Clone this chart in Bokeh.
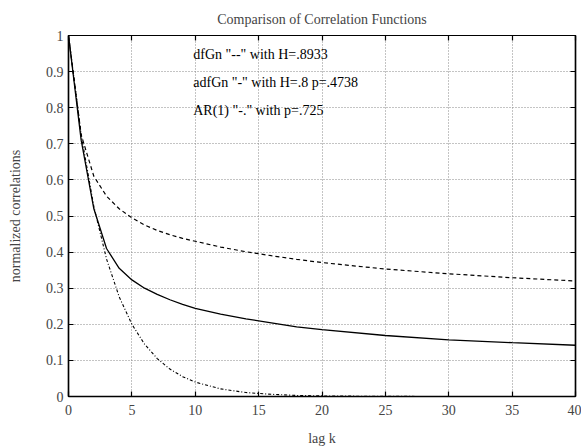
from bokeh.plotting import figure
from bokeh.models import LinearAxis, FixedTicker, PrintfTickFormatter, Range1d
from bokeh.core.properties import value
from bokeh.embed import file_html
from bokeh.resources import INLINE

# lag values (k)
lags = [0, 1, 2, 3, 4, 5, 6, 7, 8, 9, 10, 12, 14, 16, 18, 20, 25, 30, 35, 40]
# dfGn "--" with H=.8933
dfgn = [1.0, 0.725, 0.61, 0.555, 0.52, 0.495, 0.475, 0.46, 0.448, 0.438, 0.43,
        0.414, 0.401, 0.39, 0.38, 0.371, 0.353, 0.34, 0.329, 0.32]
# adfGn "-" with H=.8 p=.4738
adfgn = [1.0, 0.71, 0.52, 0.41, 0.355, 0.323, 0.30, 0.283, 0.268, 0.255, 0.244,
         0.228, 0.215, 0.204, 0.193, 0.185, 0.169, 0.157, 0.149, 0.142]
# AR(1) "-." with p=.725
ar1 = [1.0, 0.725, 0.526, 0.381, 0.276, 0.2, 0.145, 0.105, 0.076, 0.055, 0.04,
       0.021, 0.011, 0.006, 0.003, 0.0016, 0.0003, 0.0001, 0.0, 0.0]

x_ticks = [0, 5, 10, 15, 20, 25, 30, 35, 40]
y_ticks = [0, 0.1, 0.2, 0.3, 0.4, 0.5, 0.6, 0.7, 0.8, 0.9, 1.0]

notes = ['dfGn "--" with H=.8933', 'adfGn "-" with H=.8 p=.4738', 'AR(1) "-." with p=.725']
note_x = [10, 10, 10]
note_y = [0.948, 0.870, 0.793]

title = "Comparison of Correlation Functions"
xlabel = "lag k"
ylabel = "normalized correlations"

FONT = "Liberation Serif"

p = figure(width=581, height=448, output_backend="svg", toolbar_location=None,
           x_range=Range1d(0, 40), y_range=Range1d(0, 1),
           min_border_left=68, min_border_right=6, min_border_top=33, min_border_bottom=52,
           x_axis_label=xlabel, y_axis_label=ylabel)
p.title.text = title
p.title.align = "center"
p.title.text_font = FONT
p.title.text_font_size = "14px"
p.title.text_font_style = "normal"
p.title.text_line_height = 1.0
p.title.standoff = 18

p.outline_line_color = "black"
p.outline_line_width = 1.2
p.background_fill_color = "white"
p.border_fill_color = "white"

for ax in [p.xaxis[0], p.yaxis[0]]:
    ax.major_tick_in = 5
    ax.major_tick_out = 0
    ax.minor_tick_in = 0
    ax.minor_tick_out = 0
    ax.axis_line_width = 1.5
    ax.major_tick_line_width = 1.2
    ax.major_label_text_font = FONT
    ax.major_label_text_font_size = "14px"
    ax.axis_label_text_font = FONT
    ax.axis_label_text_font_size = "14px"
    ax.axis_label_text_font_style = "normal"

p.xaxis[0].ticker = FixedTicker(ticks=x_ticks)
p.yaxis[0].ticker = FixedTicker(ticks=y_ticks)
p.yaxis[0].formatter = PrintfTickFormatter(format="%g")
p.xaxis[0].major_label_standoff = 8
p.xaxis[0].axis_label_standoff = 13
p.yaxis[0].major_label_standoff = 5
p.yaxis[0].axis_label_standoff = 20

# mirrored ticks on right and top (no labels)
ra = LinearAxis(ticker=FixedTicker(ticks=y_ticks), major_tick_in=5, major_tick_out=0,
                minor_tick_in=0, minor_tick_out=0, major_label_text_color=None,
                major_label_text_font_size="1px",
                major_label_standoff=0, axis_line_width=1.5, major_tick_line_width=1.2)
ta = LinearAxis(ticker=FixedTicker(ticks=x_ticks), major_tick_in=5, major_tick_out=0,
                minor_tick_in=0, minor_tick_out=0, major_label_text_color=None,
                major_label_text_font_size="1px",
                major_label_standoff=0, axis_line_width=1.2, major_tick_line_width=1.2)
p.add_layout(ra, "right")
p.add_layout(ta, "above")

p.xgrid.grid_line_color = "#888888"
p.ygrid.grid_line_color = "#888888"
p.xgrid.grid_line_dash = "1 2"
p.ygrid.grid_line_dash = "1 2"
p.xgrid.grid_line_width = 1
p.ygrid.grid_line_width = 1
p.xgrid.ticker = FixedTicker(ticks=x_ticks)
p.ygrid.ticker = FixedTicker(ticks=y_ticks)

p.line(lags, dfgn, line_color="black", line_width=1.2, line_dash="4 3")
p.line(lags, adfgn, line_color="black", line_width=1.3)
p.line(lags, ar1, line_color="black", line_width=1.1, line_dash="1 2 3 2")

p.text(x=note_x, y=note_y, text=notes, text_font=value(FONT), text_font_size="14px",
       text_baseline="middle", text_align="left", x_offset=-2, text_color="black")

open("out.html", "w").write(file_html(p, INLINE))
